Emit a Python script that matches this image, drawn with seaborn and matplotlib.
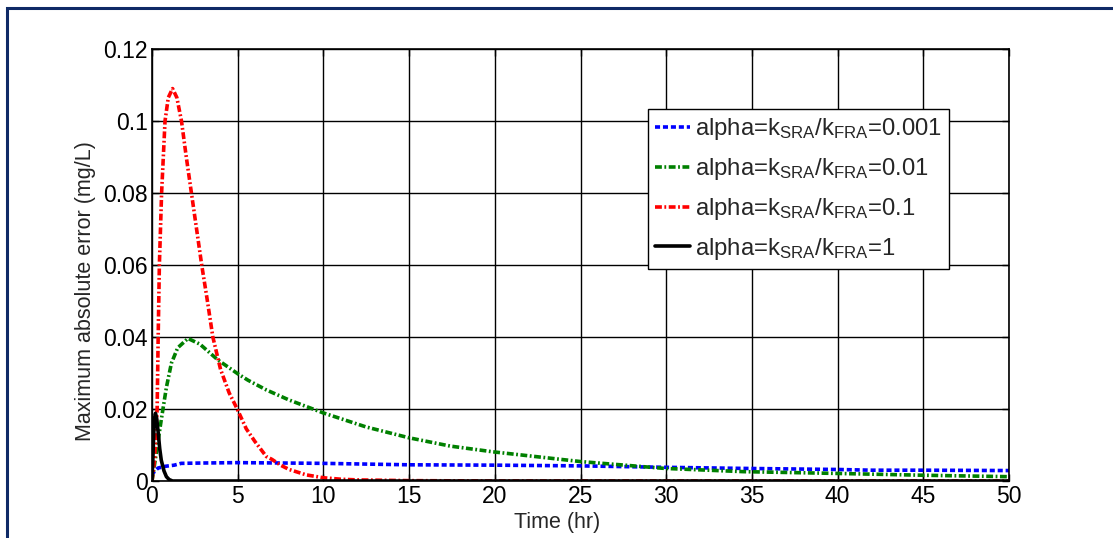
import matplotlib
matplotlib.use("Agg")
import matplotlib.pyplot as plt
from matplotlib.patches import Rectangle
import numpy as np
import pandas as pd
import seaborn as sns

# Maximum absolute error vs time for four rate ratios alpha = k_SRA / k_FRA
t_a0001 = [0, 0.06, 0.35, 0.8, 1.3, 1.7, 3, 5, 10, 15, 20, 25, 30, 34.5, 40, 42, 45, 50]
e_a0001 = [0.0015, 0.0022, 0.0036, 0.0041, 0.0044, 0.0049, 0.0050, 0.0051, 0.0049,
           0.0045, 0.0044, 0.0042, 0.0038, 0.0035, 0.0032, 0.0030, 0.0030, 0.0029]

t_a001 = [0, 0.1, 0.25, 0.54, 0.84, 1.13, 1.5, 2.1, 2.8, 3.85, 5.0, 5.6, 6.67, 8, 10,
          12.5, 15, 17.4, 19.9, 25, 29.9, 34.5, 40, 45, 50]
e_a001 = [0, 0.003, 0.0078, 0.017, 0.026, 0.0327, 0.037, 0.0396, 0.038, 0.0336, 0.0298,
          0.028, 0.0253, 0.0225, 0.0189, 0.015, 0.012, 0.0097, 0.0081, 0.0054, 0.0035,
          0.0026, 0.0021, 0.0016, 0.0012]

t_a01 = [0, 0.15, 0.3, 0.36, 0.43, 0.56, 0.76, 0.95, 1.2, 1.45, 1.72, 2.0, 2.3, 2.6, 2.9,
         3.2, 3.55, 4.0, 4.5, 4.95, 5.5, 6, 6.67, 7, 7.5, 8, 9, 10, 11, 12, 15, 20, 30, 40, 50]
e_a01 = [0, 0.006, 0.02, 0.04, 0.06, 0.08, 0.1, 0.1065, 0.109, 0.1065, 0.1, 0.09, 0.08,
         0.07, 0.06, 0.051, 0.04, 0.031, 0.0245, 0.0202, 0.0145, 0.011, 0.0068, 0.006,
         0.0044, 0.0032, 0.0017, 0.0009, 0.0005, 0.0003, 0.0001, 0, 0, 0, 0]

t_a1 = [0, 0.05, 0.1, 0.15, 0.2, 0.27, 0.35, 0.45, 0.54, 0.7, 0.84, 1.0, 1.2, 50]
e_a1 = [0, 0.006, 0.013, 0.0175, 0.0188, 0.0175, 0.014, 0.009, 0.0058, 0.0028, 0.0012,
        0.0004, 0, 0]

series_names = ["0.001", "0.01", "0.1", "1"]
x_ticks = [0, 5, 10, 15, 20, 25, 30, 35, 40, 45, 50]
y_ticks = [0, 0.02, 0.04, 0.06, 0.08, 0.1, 0.12]
y_tick_labels = ["0", "0.02", "0.04", "0.06", "0.08", "0.1", "0.12"]

frames = []
for name, t, e in zip(series_names,
                      [t_a0001, t_a001, t_a01, t_a1],
                      [e_a0001, e_a001, e_a01, e_a1]):
    frames.append(pd.DataFrame({"t": t, "err": e, "alpha": name}))
df = pd.concat(frames, ignore_index=True)

sns.set_style("white")
plt.rcParams["font.family"] = ["Liberation Sans", "DejaVu Sans"]
plt.rcParams["mathtext.fontset"] = "custom"
plt.rcParams["mathtext.rm"] = "Liberation Sans"
plt.rcParams["mathtext.it"] = "Liberation Sans:italic"

fig = plt.figure(figsize=(11.13, 5.38), dpi=100)
ax = fig.add_axes([152 / 1113, 1 - 481 / 538, 857 / 1113, 432 / 538])

palette = {"0.001": "#0000ff", "0.01": "#008000", "0.1": "#ff0000", "1": "#000000"}
dashes = {"0.001": (1.4, 0.8), "0.01": (1.9, 0.7, 0.5, 0.7),
          "0.1": (1.9, 0.7, 0.5, 0.7), "1": ""}

sns.lineplot(data=df, x="t", y="err", hue="alpha", style="alpha",
             hue_order=series_names, style_order=series_names,
             palette=palette, dashes=dashes, estimator=None, sort=True,
             linewidth=2.6, ax=ax, legend=True)

ax.set_xlim(0, 50)
ax.set_ylim(0, 0.12)
ax.set_xticks(x_ticks)
ax.set_yticks(y_ticks)
ax.set_yticklabels(y_tick_labels)
ax.tick_params(direction="in", length=5, width=1, labelsize=16.5, pad=3,
               top=True, right=True, bottom=True, left=True, colors="black")
ax.grid(True, color="black", linewidth=1.0, linestyle="-")
for sp in ax.spines.values():
    sp.set_color("black")
    sp.set_linewidth(1.2)

ax.set_xlabel("Time (hr)", fontsize=15.5)
ax.set_ylabel("Maximum absolute error (mg/L)", fontsize=15.5)
ax.xaxis.set_label_coords((557 - 152) / 857, (481 - 512) / 432)
ax.yaxis.set_label_coords((96 - 152) / 857, (481 - 291) / 432)

handles, _ = ax.get_legend_handles_labels()
labels = [r"alpha=k$_{\mathregular{SRA}}$/k$_{\mathregular{FRA}}$=" + n for n in series_names]
leg = ax.legend(handles[-4:], labels, loc="upper left",
                bbox_to_anchor=((648 - 152) / 857, (481 - 109) / 432),
                borderaxespad=0, fontsize=17.2, frameon=True, fancybox=False,
                handlelength=1.45, handletextpad=0.2, labelspacing=0.58,
                borderpad=0.3)
leg.get_frame().set_edgecolor("black")
leg.get_frame().set_linewidth(1.0)
leg.get_frame().set_alpha(1)

# navy frame around the figure
fig.patches.append(Rectangle((7 / 1113, -0.1), 1.2, 1 - 8 / 538 + 0.1,
                             transform=fig.transFigure, fill=False,
                             edgecolor="#0f2a66", linewidth=2.2, zorder=10))

fig.savefig("out.png", dpi=100)
